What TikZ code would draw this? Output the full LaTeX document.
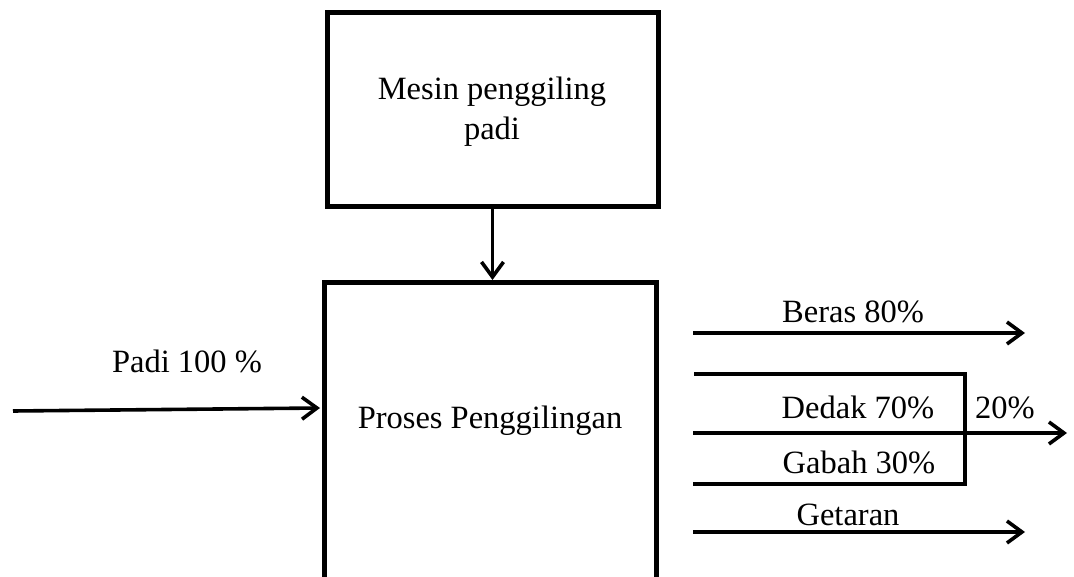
\documentclass[tikz,border=0pt]{standalone}
\usepackage{fontspec}
\setmainfont{Liberation Serif}
\usetikzlibrary{arrows.meta}
\begin{document}
\begin{tikzpicture}[x=1pt,y=-1pt,
  boxline/.style={line width=5pt},
  flow/.style={line width=3.6pt,-{Straight Barb[length=15pt,width=22pt]}},
  plain/.style={line width=3.6pt},
  lbl/.style={anchor=base,inner sep=0pt,font=\fontsize{32.5}{40}\selectfont},
  every node/.style={text=black}]
\useasboundingbox (0,0) rectangle (1074,577);
\fill[white] (0,0) rectangle (1074,577);

% machine box
\node[draw,boxline,minimum width=331pt,minimum height=194pt,inner sep=0pt] (mesin) at (492.5,110) {};
\node[lbl] (mesintxt1) at (492,100) {Mesin penggiling};
\node[lbl] (mesintxt2) at (492,140) {padi};

% process box (open at the bottom edge)
\coordinate (pbl) at (324,580);
\coordinate (ptl) at (324,283);
\coordinate (ptr) at (656,283);
\coordinate (pbr) at (656,580);
\draw[boxline] (pbl) -- (ptl) -- (ptr) -- (pbr);
\node[lbl] (proses) at (490,428) {Proses Penggilingan};
\coordinate (procin) at (320,408);
\coordinate (proctop) at (mesin.south |- 0,280);

\draw[flow] (mesin.south) -- (proctop);

% input
\coordinate (padistart) at (13,411);
\draw[flow] (padistart) -- (procin);
\node[lbl] (padi) at (187,373) {Padi 100 \%};

% outputs
\coordinate (beras0) at (693,333);
\coordinate (beras1) at (1025,333);
\draw[flow] (beras0) -- (beras1);
\node[lbl] (beras) at (853,323) {Beras 80\%};

\coordinate (dtop0) at (694,374);
\coordinate (dtop1) at (965,374);
\coordinate (dbot0) at (693,484);
\coordinate (dbot1) at (965,484);
\coordinate (dmid0) at (693,433);
\coordinate (dmid1) at (1067,433);
\draw[plain] (dtop0) -- (dtop1) -- (dbot1) -- (dbot0);
\draw[flow] (dmid0) -- (dmid1);
\node[lbl] (dedak) at (858,418) {Dedak 70\%};
\node[lbl] (gabah) at (859,473) {Gabah 30\%};
\node[lbl] (dua) at (1005,418) {20\%};

\coordinate (get0) at (693,532);
\coordinate (get1) at (1025,532);
\draw[flow] (get0) -- (get1);
\node[lbl] (getaran) at (848,525) {Getaran};
\end{tikzpicture}
\end{document}
